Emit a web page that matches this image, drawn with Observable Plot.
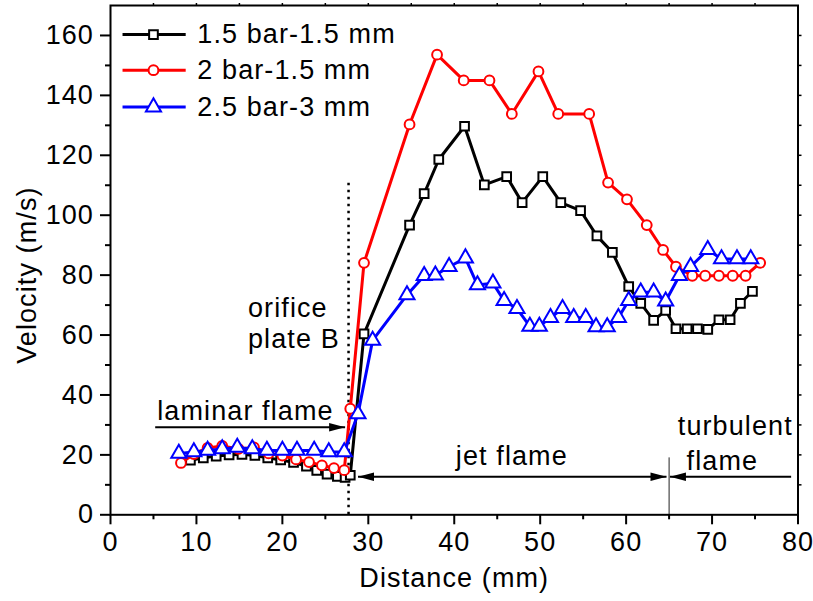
<!DOCTYPE html>
<html>
<head>
<meta charset="utf-8">
<script src="https://cdn.jsdelivr.net/npm/d3@7"></script>
<script src="https://cdn.jsdelivr.net/npm/@observablehq/plot@0.6"></script>
<style>
  html, body { margin: 0; padding: 0; background: #fff; }
</style>
</head>
<body>
<div id="chart"></div>
<script>
// ---- data ----
const seriesNames = ["1.5 bar-1.5 mm", "2 bar-1.5 mm", "2.5 bar-3 mm"];
const seriesColors = ["#000000", "#ff0000", "#0000ff"];
const seriesSymbols = ["square", "circle", "triangle"];

const blackX = [9.3,10.8,12.3,13.8,15.3,16.8,18.3,19.8,21.3,22.8,24.0,25.2,26.4,27.3,27.9,
  29.5,34.8,36.5,38.2,41.2,43.5,46.1,47.9,50.3,52.4,54.7,56.6,58.4,60.3,61.7,63.2,64.6,65.8,67.1,68.3,69.5,70.8,72.1,73.3,74.7];
const blackY = [18.2,19.0,19.6,20.0,20.2,19.8,19.0,18.3,17.5,16.2,14.8,13.6,12.8,12.5,13.2,
  60.4,96.7,107.2,118.6,129.7,110.1,112.9,104.2,112.9,104.2,101.5,93.1,87.6,76.2,70.6,64.9,68.2,62.1,62.1,62.1,61.9,65.1,65.1,70.6,74.6];

const redX = [8.2,9.7,11.3,13.0,14.9,16.7,18.4,20.0,21.6,23.1,24.6,26.0,27.2,27.9,
  29.5,34.8,38.0,41.1,44.1,46.7,49.8,52.1,55.7,57.9,60.1,62.4,64.3,65.8,67.7,69.2,70.8,72.4,73.9,75.6];
const redY = [17.3,20.3,22.3,23.0,22.0,22.5,20.5,19.8,18.5,17.6,16.5,15.6,14.9,35.4,
  84.1,130.3,153.6,145.0,145.0,133.8,148.0,133.8,133.8,110.9,105.3,96.7,88.4,82.8,79.8,79.8,79.8,79.8,79.8,84.1];

const blueX = [7.95,9.7,11.3,13.0,14.75,16.5,18.2,20.0,21.7,23.7,25.4,27.2,
  28.8,30.5,34.5,36.5,37.8,39.4,41.3,42.7,44.5,45.8,47.3,48.8,49.9,51.2,52.6,53.9,55.3,56.5,57.8,59.1,60.3,61.7,63.2,64.6,66.2,67.5,69.5,71.1,72.9,74.5];
const blueY = [20.5,21.0,21.5,22.0,22.5,22.0,21.5,21.5,21.5,21.5,21.0,21.0,
  33.7,58.2,73.4,79.8,80.0,82.8,85.7,76.7,77.3,71.5,68.8,62.9,62.9,65.8,68.8,65.8,65.8,62.7,62.7,65.8,71.5,74.3,74.3,71.3,79.8,82.8,88.5,85.4,85.4,85.4];

const xTicks = [0,10,20,30,40,50,60,70,80];
const yTicks = [0,20,40,60,80,100,120,140,160];
const xTitle = "Distance (mm)";
const yTitle = "Velocity (m/s)";

// ---- annotations ----
const annoCentered = [
  {t: "laminar flame", x: 15.7, y: 34.5},
  {t: "jet flame", x: 46.7, y: 19.5},
  {t: "turbulent", x: 72.7, y: 29.5},
  {t: "flame", x: 71.2, y: 17.7}
];
const annoStart = [
  {t: "orifice", x: 16.0, y: 69.0},
  {t: "plate B", x: 16.0, y: 58.6}
];
const arrowSegs = [
  {x1: 5.2, x2: 27.3, y: 29.2},
  {x1: 28.8, x2: 64.7, y: 12.7},
  {x1: 65.1, x2: 79.2, y: 12.7}
];
const headsRight = [{x: 27.3, y: 29.2}, {x: 64.7, y: 12.7}];
const headsLeft = [{x: 28.8, y: 12.7}, {x: 65.1, y: 12.7}];
const legendRows = [160.3, 148.4, 136.1];

// ---- build tables ----
const rows = [];
[[blackX, blackY], [redX, redY], [blueX, blueY]].forEach(([xs, ys], i) => {
  xs.forEach((x, j) => rows.push({s: seriesNames[i], i, x, y: ys[j]}));
});
const bySeries = i => rows.filter(d => d.i === i);

const arrowRight = {draw(ctx) { ctx.moveTo(0, 0); ctx.lineTo(-16, -4.3); ctx.lineTo(-16, 4.3); ctx.closePath(); }};
const arrowLeft = {draw(ctx) { ctx.moveTo(0, 0); ctx.lineTo(16, -4.3); ctx.lineTo(16, 4.3); ctx.closePath(); }};

const legend = seriesNames.map((s, i) => ({s, i, y: legendRows[i]}));
const FS = 27;

const marks = [];
// vertical guide lines
marks.push(Plot.ruleX([27.7], {y1: 0, y2: 111.4, stroke: "#000", strokeWidth: 2.5, strokeDasharray: "2.5,4.5"}));
marks.push(Plot.ruleX([65.0], {y1: 0, y2: 19, stroke: "#222", strokeWidth: 1}));
// arrows
marks.push(Plot.link(arrowSegs, {x1: "x1", x2: "x2", y1: "y", y2: "y", stroke: "#000", strokeWidth: 2}));
marks.push(Plot.dot(headsRight, {x: "x", y: "y", symbol: arrowRight, fill: "#000", stroke: "none"}));
marks.push(Plot.dot(headsLeft, {x: "x", y: "y", symbol: arrowLeft, fill: "#000", stroke: "none"}));
// series
[0, 1, 2].forEach(i => {
  const d = bySeries(i);
  marks.push(Plot.line(d, {x: "x", y: "y", stroke: seriesColors[i], strokeWidth: 3}));
  marks.push(Plot.dot(d, {x: "x", y: "y", symbol: seriesSymbols[i], r: i === 2 ? 5.6 : 4.9, stroke: seriesColors[i], fill: "white", strokeWidth: 2}));
});
// annotation texts
marks.push(Plot.text(annoCentered, {x: "x", y: "y", text: "t", textAnchor: "middle", fill: "#000", fontSize: FS}));
marks.push(Plot.text(annoStart, {x: "x", y: "y", text: "t", textAnchor: "start", fill: "#000", fontSize: FS}));
// legend
marks.push(Plot.link(legend, {x1: 1.4, x2: 8.75, y1: "y", y2: "y", stroke: d => seriesColors[d.i], strokeWidth: 3}));
legend.forEach((d, i) => {
  marks.push(Plot.dot([d], {x: 5.0, y: "y", symbol: seriesSymbols[i], r: i === 2 ? 5.6 : 4.9, stroke: seriesColors[i], fill: "white", strokeWidth: 2}));
});
marks.push(Plot.text(legend, {x: 10.1, y: "y", text: "s", textAnchor: "start", fill: "#000", fontSize: FS}));
// axes
marks.push(Plot.axisX({ticks: xTicks, tickSize: 10, tickPadding: 7, fontSize: FS, label: null, strokeWidth: 2}));
marks.push(Plot.axisX({ticks: d3.range(5, 80, 10), tickSize: 5, tickFormat: () => "", label: null, strokeWidth: 2}));
marks.push(Plot.axisY({ticks: yTicks, tickSize: 10, tickPadding: 6.5, fontSize: FS, label: null, strokeWidth: 2}));
marks.push(Plot.axisY({ticks: d3.range(10, 170, 20), tickSize: 5, tickFormat: () => "", label: null, strokeWidth: 2}));
marks.push(Plot.axisX({anchor: "top", ticks: d3.range(5, 80, 5), tickSize: 3, tickFormat: () => "", label: null, strokeWidth: 1.5}));
marks.push(Plot.axisY({anchor: "right", ticks: d3.range(10, 170, 10), tickSize: 3, tickFormat: () => "", label: null, strokeWidth: 1.5}));
marks.push(Plot.frame({stroke: "#000", strokeWidth: 2}));
// axis titles (placed just outside the frame)
marks.push(Plot.text([xTitle], {x: 40, y: -21.3, fontSize: FS, fill: "#000"}));
marks.push(Plot.text([yTitle], {x: -9.7, y: 80, rotate: -90, fontSize: FS, fill: "#000"}));

const chart = Plot.plot({
  width: 813,
  height: 601,
  marginLeft: 110,
  marginRight: 15.5,
  marginTop: 5,
  marginBottom: 86.7,
  x: {domain: [0, 80]},
  y: {domain: [0, 170]},
  style: {fontFamily: "'Liberation Sans', Arial, sans-serif", fontSize: FS + "px", letterSpacing: "1.1px", background: "#fff", color: "#000", overflow: "visible"},
  marks
});
document.getElementById("chart").appendChild(chart);
</script>
</body>
</html>
